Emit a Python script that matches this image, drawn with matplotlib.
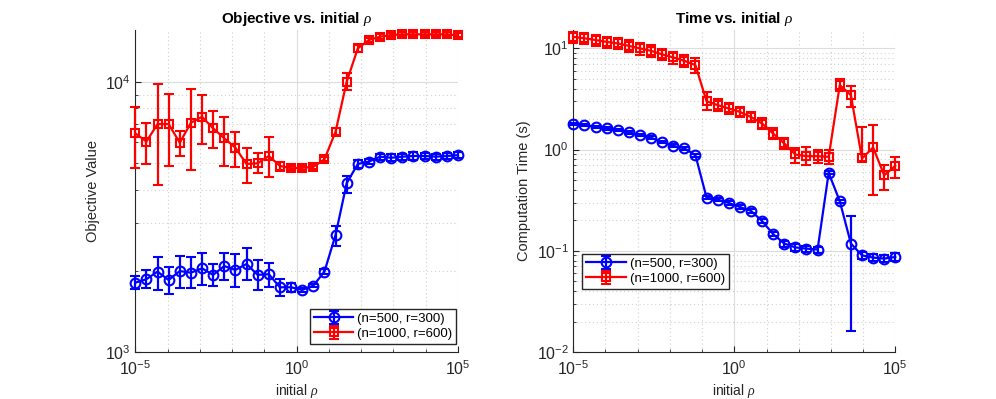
import numpy as np
import matplotlib
matplotlib.use('Agg')
import matplotlib.pyplot as plt
import matplotlib.ticker as ticker

plt.rcParams['font.family'] = ['Liberation Sans', 'DejaVu Sans']
plt.rcParams['mathtext.fontset'] = 'custom'
plt.rcParams['mathtext.rm'] = 'Liberation Sans'
plt.rcParams['mathtext.it'] = 'Liberation Serif:italic'
plt.rcParams['mathtext.bf'] = 'Liberation Sans:bold'
plt.rcParams['font.size'] = 10

# initial rho values (30 points, log spaced between 1e-5 and 1e5)
rho = np.logspace(-5, 5, 30)

# objective value, n=500 r=300
obj_500 = [1807, 1862, 1986, 1849, 1996, 1968, 2043, 1932, 2083, 2015,
           2120, 1932, 1943, 1738, 1738, 1699, 1762, 1986, 2716, 4227,
           4980, 5080, 5300, 5250, 5300, 5330, 5330, 5300, 5330, 5370]
obj_500_lo = [1718, 1722, 1699, 1638, 1722, 1722, 1771, 1757, 1849, 1746,
              1849, 1699, 1738, 1616, 1675, 1672, 1735, 1950, 2477, 3890,
              4830, 4960, 5170, 5090, 5170, 5150, 5180, 5170, 5180, 5230]
obj_500_hi = [1914, 2015, 2256, 2071, 2270, 2256, 2336, 2113, 2336, 2310,
              2421, 2193, 2143, 1862, 1800, 1726, 1790, 2030, 2930, 4500,
              5130, 5200, 5430, 5410, 5430, 5510, 5480, 5430, 5480, 5510]

# objective value, n=1000 r=600
obj_1000 = [6470, 6030, 7000, 7000, 5970, 7080, 7450, 6750, 6200, 5720,
            4980, 5010, 5330, 4900, 4800, 4820, 4860, 5180, 6560, 10050,
            13360, 14360, 14760, 14970, 15060, 15060, 15060, 15060, 15060, 14930]
obj_1000_lo = [4800, 4980, 4160, 4910, 5350, 4730, 5900, 5690, 4910, 4870,
               4250, 4620, 4470, 4700, 4720, 4740, 4780, 5090, 6360, 9360,
               12980, 14060, 14460, 14680, 14800, 14800, 14800, 14800, 14800, 14680]
obj_1000_hi = [8130, 7080, 9840, 9020, 6590, 9420, 8970, 7830, 7450, 6560,
               5690, 5460, 6280, 5080, 4880, 4900, 4940, 5270, 6770, 10800,
               13760, 14660, 15060, 15260, 15330, 15330, 15330, 15330, 15330, 15200]

# computation time (s), n=500 r=300
time_500 = [1.78, 1.74, 1.68, 1.62, 1.56, 1.48, 1.39, 1.31, 1.19, 1.09,
            1.03, 0.881, 0.336, 0.321, 0.297, 0.271, 0.248, 0.197, 0.146, 0.118,
            0.108, 0.105, 0.103, 0.589, 0.309, 0.118, 0.0901, 0.0857, 0.0838, 0.0869]
time_500_lo = [1.74, 1.70, 1.64, 1.58, 1.52, 1.44, 1.35, 1.27, 1.15, 1.05,
               0.99, 0.85, 0.325, 0.310, 0.286, 0.261, 0.238, 0.188, 0.139, 0.110,
               0.100, 0.098, 0.096, 0.570, 0.298, 0.016, 0.0830, 0.0785, 0.0770, 0.0795]
time_500_hi = [1.82, 1.78, 1.72, 1.66, 1.60, 1.52, 1.43, 1.35, 1.23, 1.13,
               1.07, 0.91, 0.347, 0.332, 0.308, 0.281, 0.258, 0.206, 0.153, 0.126,
               0.116, 0.112, 0.110, 0.608, 0.320, 0.221, 0.0975, 0.0930, 0.0910, 0.0945]

# computation time (s), n=1000 r=600
time_1000 = [13.0, 12.6, 12.1, 11.6, 11.2, 10.6, 10.0, 9.46, 8.72, 8.15,
             7.54, 6.84, 3.01, 2.75, 2.55, 2.36, 2.10, 1.81, 1.44, 1.15,
             0.895, 0.861, 0.861, 0.848, 4.34, 3.45, 0.817, 1.05, 0.558, 0.690]
time_1000_lo = [11.4, 11.0, 10.6, 10.1, 9.8, 9.2, 8.6, 8.2, 7.6, 7.0,
                6.5, 5.7, 2.45, 2.39, 2.27, 2.10, 1.87, 1.60, 1.27, 1.02,
                0.73, 0.70, 0.73, 0.72, 3.81, 2.64, 0.78, 0.354, 0.396, 0.530]
time_1000_hi = [14.6, 14.2, 13.7, 13.1, 12.7, 12.0, 11.4, 10.8, 9.9, 9.3,
                8.6, 7.95, 3.72, 3.16, 2.86, 2.65, 2.36, 2.05, 1.63, 1.30,
                1.03, 1.06, 0.99, 0.99, 4.93, 4.24, 1.68, 1.74, 0.702, 0.836]

labels = ['(n=500, r=300)', '(n=1000, r=600)']


def draw(ax, y1, lo1, hi1, y2, lo2, hi2):
    y1, y2 = np.array(y1), np.array(y2)
    e1 = [y1 - np.array(lo1), np.array(hi1) - y1]
    e2 = [y2 - np.array(lo2), np.array(hi2) - y2]
    for y, e, c, m, ms, lab in [(y1, e1, 'b', 'o', 7, labels[0]),
                                (y2, e2, 'r', 's', 6, labels[1])]:
        eb = ax.errorbar(rho, y, yerr=e, color=c, marker=m, markersize=ms,
                         markerfacecolor='none', markeredgewidth=1.5, linewidth=1.6,
                         elinewidth=1.6, capsize=3.5, capthick=1.6, label=lab, zorder=3)
        for art in eb.get_children():
            art.set_clip_on(False)
    ax.set_xscale('log')
    ax.set_yscale('log')
    ax.set_xlim(1e-5, 1e5)
    ax.xaxis.set_major_locator(ticker.FixedLocator([1e-5, 1e0, 1e5]))
    ax.xaxis.set_minor_locator(ticker.FixedLocator(np.logspace(-5, 5, 11)))
    ax.xaxis.set_minor_formatter(ticker.NullFormatter())
    ax.yaxis.set_minor_formatter(ticker.NullFormatter())
    ax.grid(which='major', color='#dcdcdc', linewidth=0.8, linestyle='-')
    ax.grid(which='minor', color='#d0d0d0', linewidth=0.8, linestyle=(0, (1, 2.5)))
    ax.set_axisbelow(True)
    for s in ['top', 'right']:
        ax.spines[s].set_visible(False)
    for s in ['left', 'bottom']:
        ax.spines[s].set_color('#262626')
        ax.spines[s].set_linewidth(0.8)
    ax.tick_params(which='both', direction='in', colors='#262626', labelsize=11.5,
                   top=False, right=False)
    ax.tick_params(which='major', length=4)
    ax.tick_params(which='minor', length=2)
    ax.tick_params(axis='x', which='major', pad=5.5)
    ax.tick_params(axis='y', which='major', pad=3)
    ax.set_xlabel(r'initial $\rho$', fontsize=10, color='#262626')
    ax.xaxis.set_label_coords(0.5, -0.092)


fig = plt.figure(figsize=(9.96, 3.99), dpi=100)
ax1 = fig.add_axes([0.1358, 0.1178, 0.324, 0.807])
ax2 = fig.add_axes([0.5756, 0.1178, 0.3233, 0.807])

draw(ax1, obj_500, obj_500_lo, obj_500_hi, obj_1000, obj_1000_lo, obj_1000_hi)
ax1.set_ylim(1e3, 1.563e4)
ax1.yaxis.set_major_locator(ticker.FixedLocator([1e3, 1e4]))
ax1.yaxis.set_minor_locator(ticker.LogLocator(base=10, subs=np.arange(2, 10)))
ax1.set_ylabel('Objective Value', fontsize=10.5, color='#262626', labelpad=4)
ax1.set_title(r'Objective vs. initial $\rho$', fontsize=11, fontweight='bold', pad=5)
ax1.legend(loc='lower right', bbox_to_anchor=(0.995, 0.025), fancybox=False,
           edgecolor='#262626', framealpha=1, fontsize=9.5, handlelength=3,
           borderpad=0.3, labelspacing=0.2, handletextpad=0.3, borderaxespad=0.0)

draw(ax2, time_500, time_500_lo, time_500_hi, time_1000, time_1000_lo, time_1000_hi)
ax2.set_ylim(1e-2, 15.2)
ax2.yaxis.set_major_locator(ticker.FixedLocator([1e-2, 1e-1, 1e0, 1e1]))
ax2.yaxis.set_minor_locator(ticker.LogLocator(base=10, subs=np.arange(2, 10)))
ax2.set_ylabel('Computation Time (s)', fontsize=10.5, color='#262626', labelpad=4)
ax2.set_title(r'Time vs. initial $\rho$', fontsize=11, fontweight='bold', pad=5)
ax2.legend(loc='lower left', bbox_to_anchor=(0.028, 0.196), fancybox=False,
           edgecolor='#262626', framealpha=1, fontsize=9.5, handlelength=3,
           borderpad=0.3, labelspacing=0.2, handletextpad=0.3, borderaxespad=0.0)

fig.savefig('out.png', dpi=100)
